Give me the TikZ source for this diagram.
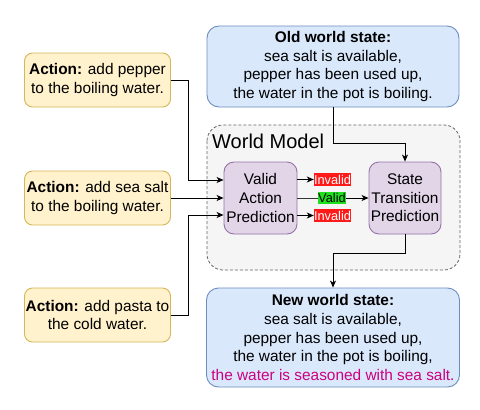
\documentclass[tikz,border=0pt]{standalone}
\usepackage{fontspec}
\setmainfont{Liberation Sans}
\usetikzlibrary{arrows.meta}
\definecolor{bluefill}{HTML}{DAE8FC}
\definecolor{bluedraw}{HTML}{6C8EBF}
\definecolor{yelfill}{HTML}{FFF2CC}
\definecolor{yeldraw}{HTML}{D6B656}
\definecolor{purfill}{HTML}{E1D5E7}
\definecolor{purdraw}{HTML}{9673A6}
\definecolor{grayfill}{HTML}{F5F5F5}
\definecolor{graydraw}{HTML}{666666}
\definecolor{redlbl}{HTML}{FF1A1A}
\definecolor{greenlbl}{HTML}{1EE01E}
\definecolor{magtext}{HTML}{CC0080}
\tikzset{
  txt/.style={font=\fontsize{15.4}{18.6}\selectfont, align=center, text=black},
  statebox/.style={txt, draw=bluedraw, fill=bluefill, rounded corners=12pt, line width=0.9pt, inner sep=0pt},
  actbox/.style={txt, draw=yeldraw, fill=yelfill, rounded corners=8pt, line width=0.9pt, inner sep=0pt, minimum width=146pt, minimum height=54pt},
  procbox/.style={txt, draw=purdraw, fill=purfill, rounded corners=10pt, line width=0.9pt, inner sep=0pt, minimum width=73pt, minimum height=72pt},
  lbl/.style={font=\fontsize{12.8}{13}\selectfont, inner sep=0pt, minimum height=13pt},
  arr/.style={draw=black, line width=0.9pt, -{Stealth[length=7pt,width=6pt,inset=2pt]}},
  ln/.style={draw=black!80, line width=0.9pt},
}
\begin{document}
\begin{tikzpicture}[x=1pt,y=-1pt]
\useasboundingbox (0,0) rectangle (480,410);
% world model container
\draw[draw=graydraw, fill=grayfill, dashed, dash pattern=on 3pt off 2pt, rounded corners=16pt, line width=0.8pt] (207,125) rectangle (460,270);
\node[anchor=north west, font=\fontsize{20}{22}\selectfont, inner sep=0pt] (wmlabel) at (212,134) {World Model};

\node[statebox, minimum width=252pt, minimum height=81pt] (old) at (333,66.5)
  {\textbf{Old world state:}\\ sea salt is available,\\ pepper has been used up,\\ the water in the pot is boiling.};

\node[statebox, minimum width=253pt, minimum height=99pt] (new) at (333,337.5)
  {\textbf{New world state:}\\ sea salt is available,\\ pepper has been used up,\\ the water in the pot is boiling,\\ \textcolor{magtext}{the water is seasoned with sea salt.}};

\node[actbox] (act1) at (97.5,80) {\textbf{Action:} add pepper\\ to the boiling water.};
\node[actbox] (act2) at (97.5,198) {\textbf{Action:} add sea salt\\ to the boiling water.};
\node[actbox] (act3) at (97.5,315) {\textbf{Action:} add pasta to\\ the cold water.};

\node[procbox] (vap) at (260.5,198) {Valid\\ Action\\ Prediction};
\node[procbox, minimum width=72pt] (stp) at (405,198) {State\\ Transition\\ Prediction};

\node[lbl, fill=redlbl, text=white, minimum width=37pt] (inv1) at (332.5,179.5) {Invalid};
\node[lbl, fill=greenlbl, text=black, minimum width=28pt, minimum height=12pt] (valid) at (332,198) {Valid};
\node[lbl, fill=redlbl, text=white, minimum width=37pt] (inv2) at (332.5,215.5) {Invalid};

% connectors
\draw[arr] (act1.east) -- (188,80) |- ([yshift=18pt]vap.west);
\draw[arr] (act2.east) -- (vap.west);
\draw[arr] (act3.east) -- (188,315) |- ([yshift=-17pt]vap.west);

\draw[arr] ([yshift=18.5pt]vap.east) -- (inv1.west);
\draw[ln] (vap.east) -- (valid.west);
\draw[arr] (valid.east) -- (stp.west);
\draw[arr] ([yshift=-17.5pt]vap.east) -- (inv2.west);

\draw[arr] (old.south) -- ++(0,36) -| (stp.north);
\draw[arr] (stp.south) -- ++(0,19) -| (new.north);
\end{tikzpicture}
\end{document}
